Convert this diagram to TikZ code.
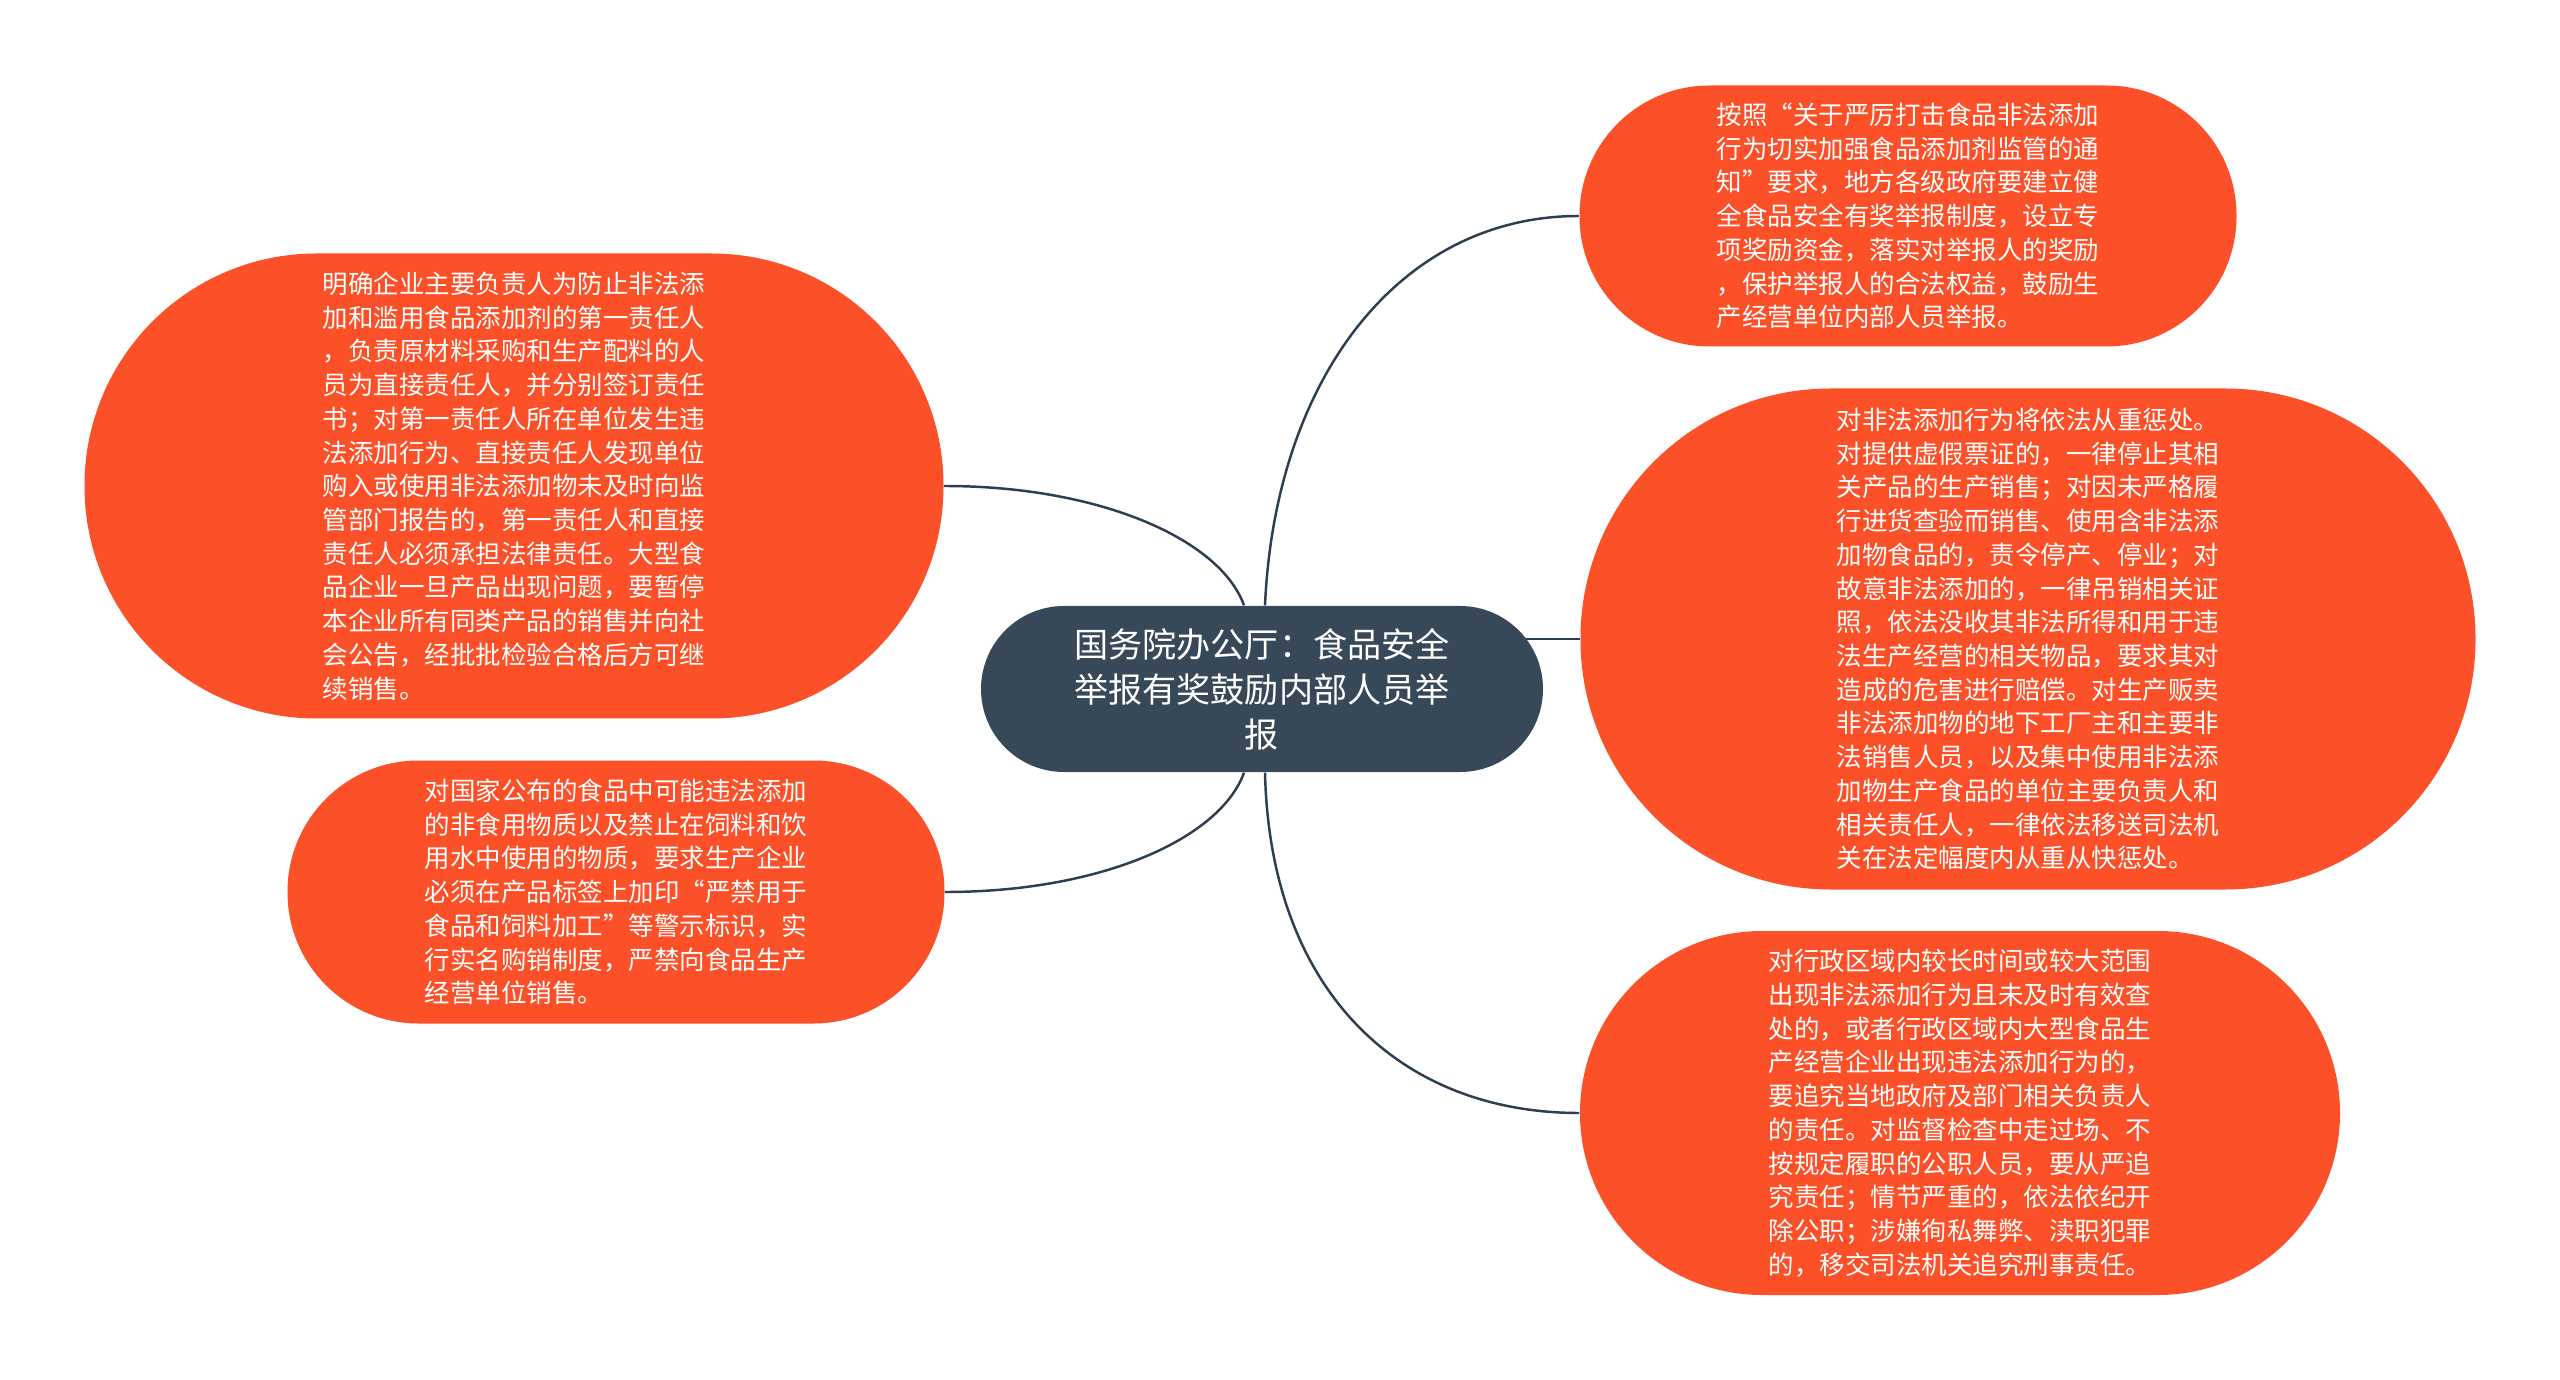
\documentclass[tikz,border=0pt]{standalone}
\usepackage{fontspec}
\setmainfont{Noto Sans CJK SC}
\usepackage{tikz}
\pgfdeclarelayer{background}
\pgfdeclarelayer{foreground}
\pgfsetlayers{background,main,foreground}
\definecolor{leaforange}{RGB}{252,80,40}
\definecolor{rootslate}{RGB}{55,72,89}
\definecolor{linkslate}{RGB}{44,62,80}
\tikzset{
  leaf/.style={fill=leaforange, text=white, align=left, inner sep=0pt,
    font=\fontsize{7.25pt}{9.6pt}\selectfont},
  root/.style={fill=rootslate, text=white, align=center, inner sep=0pt,
    minimum width=5.62cm, minimum height=1.66cm, rounded corners=0.83cm,
    font=\fontsize{9.7pt}{12.8pt}\selectfont},
  link/.style={draw=linkslate, line width=0.7pt}
}

\begin{document}
\begin{tikzpicture}
\useasboundingbox (0,0) rectangle (25.6,13.79);
\begin{pgfonlayer}{main}
\node[root] (c) at (12.62,6.90) {国务院办公厅：食品安全\\举报有奖鼓励内部人员举\\报};
\node[leaf, minimum width=6.57cm, minimum height=2.61cm, rounded corners=1.30cm] (n1) at (19.08,11.63)
  {按照“关于严厉打击食品非法添加\\行为切实加强食品添加剂监管的通\\知”要求，地方各级政府要建立健\\全食品安全有奖举报制度，设立专\\项奖励资金，落实对举报人的奖励\\，保护举报人的合法权益，鼓励生\\产经营单位内部人员举报。};
\node[leaf, minimum width=8.95cm, minimum height=5.01cm, rounded corners=2.50cm] (n2) at (20.28,7.40)
  {对非法添加行为将依法从重惩处。\\对提供虚假票证的，一律停止其相\\关产品的生产销售；对因未严格履\\行进货查验而销售、使用含非法添\\加物食品的，责令停产、停业；对\\故意非法添加的，一律吊销相关证\\照，依法没收其非法所得和用于违\\法生产经营的相关物品，要求其对\\造成的危害进行赔偿。对生产贩卖\\非法添加物的地下工厂主和主要非\\法销售人员，以及集中使用非法添\\加物生产食品的单位主要负责人和\\相关责任人，一律依法移送司法机\\关在法定幅度内从重从快惩处。};
\node[leaf, minimum width=7.60cm, minimum height=3.64cm, rounded corners=1.82cm] (n3) at (19.60,2.66)
  {对行政区域内较长时间或较大范围\\出现非法添加行为且未及时有效查\\处的，或者行政区域内大型食品生\\产经营企业出现违法添加行为的，\\要追究当地政府及部门相关负责人\\的责任。对监督检查中走过场、不\\按规定履职的公职人员，要从严追\\究责任；情节严重的，依法依纪开\\除公职；涉嫌徇私舞弊、渎职犯罪\\的，移交司法机关追究刑事责任。};
\node[leaf, minimum width=8.59cm, minimum height=4.65cm, rounded corners=2.32cm] (l1) at (5.14,8.93)
  {明确企业主要负责人为防止非法添\\加和滥用食品添加剂的第一责任人\\，负责原材料采购和生产配料的人\\员为直接责任人，并分别签订责任\\书；对第一责任人所在单位发生违\\法添加行为、直接责任人发现单位\\购入或使用非法添加物未及时向监\\管部门报告的，第一责任人和直接\\责任人必须承担法律责任。大型食\\品企业一旦产品出现问题，要暂停\\本企业所有同类产品的销售并向社\\会公告，经批批检验合格后方可继\\续销售。};
\node[leaf, minimum width=6.57cm, minimum height=2.63cm, rounded corners=1.31cm] (l2) at (6.16,4.87)
  {对国家公布的食品中可能违法添加\\的非食用物质以及禁止在饲料和饮\\用水中使用的物质，要求生产企业\\必须在产品标签上加印“严禁用于\\食品和饲料加工”等警示标识，实\\行实名购销制度，严禁向食品生产\\经营单位销售。};
\end{pgfonlayer}
\begin{pgfonlayer}{background}
\fill[white] (0,0) rectangle (25.6,13.79);
\draw[link] (l1.east) .. controls +(1.56,0) and +(-0.24,0.66) .. ([xshift=-1.8mm]c.north);
\draw[link] (l2.east) .. controls +(1.56,0) and +(-0.24,-0.66) .. ([xshift=-1.8mm]c.south);
\draw[link] ([xshift=0.3mm]c.north) .. controls +(0.10,2.26) and +(-1.80,0) .. (n1.west);
\draw[link] ([xshift=0.3mm]c.south) .. controls +(0.05,-2.18) and +(-1.80,0) .. (n3.west);
\draw[link] (n2.west) -- (n2.west -| c.center);
\end{pgfonlayer}
\end{tikzpicture}
\end{document}
